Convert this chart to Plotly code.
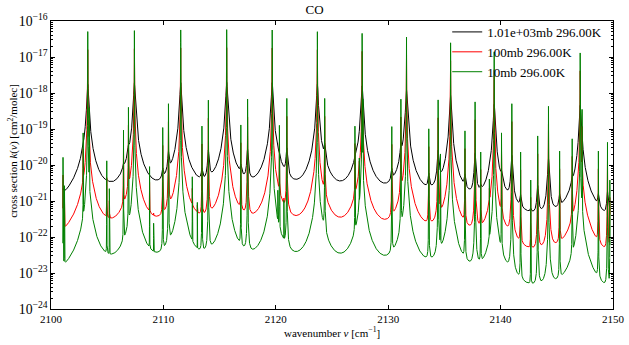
import numpy as np
import plotly.graph_objects as go

# CO line list: centres [cm-1] and intensities [1e-22 cm/molec]
line_center = [
    2103.27, 2107.42, 2111.54, 2115.63, 2119.68, 2123.70, 2127.68, 2131.63,
    2135.55, 2139.43, 2147.08,
    2101.07, 2101.20, 2102.86, 2103.40, 2104.96, 2105.19, 2106.45, 2106.89,
    2108.77, 2109.13, 2109.94, 2110.45, 2112.57, 2113.02, 2113.43, 2114.00,
    2116.89, 2117.49, 2120.18, 2120.32, 2120.72, 2120.98, 2123.72, 2124.35,
    2127.04, 2127.43, 2127.75, 2130.32, 2131.13, 2133.61, 2134.44, 2134.65,
    2136.83, 2137.73, 2138.23, 2139.00, 2140.08, 2141.00, 2141.78, 2142.68,
    2143.30, 2144.26, 2145.25, 2146.37, 2147.25, 2148.70, 2149.51, 2149.72,
]
line_strength = [
    3280, 3490, 3650, 3730, 3650, 3280, 2950, 2340,
    1620, 910, 850,
    1.05, 0.17, 5.0, 25.0, 0.84, 0.14, 6.0, 25.8,
    0.58, 0.013, 7.1, 32.6, 0.30, 0.056, 7.8, 41.0,
    8.4, 44.0, 0.11, 8.2, 0.062, 46.0, 7.5, 46.0,
    7.8, 0.96, 44.0, 7.6, 44.0, 6.6, 42.0, 1.32,
    5.8, 37.0, 1.5, 0.26, 5.1, 33.0, 1.5, 0.25,
    4.2, 28.0, 1.6, 3.5, 23.0, 1.6, 2.8, 0.25,
]

# conditions of the three spectra
pressure_mb = [1013.25, 100.0, 10.0]
temperature_K = [296.0, 296.0, 296.0]
trace_names = ["1.01e+03mb 296.00K", "100mb 296.00K", "10mb 296.00K"]
trace_colors = ["black", "red", "green"]

GAMMA_AIR = 0.06          # Lorentz HWHM at 1 atm [cm-1]
MASS_AMU = 28.0
NU_START, NU_END = 2101.05, 2149.73   # computed spectral window
AX_MIN, AX_MAX = 2100.0, 2150.0


def faddeeva_re(x, y):
    """Real part of the Faddeeva function (Humlicek W4)."""
    x = np.asarray(x, dtype=float)
    y = np.broadcast_to(np.asarray(y, dtype=float), x.shape)
    t = y - 1j * x
    s = np.abs(x) + y
    w = np.zeros(x.shape, dtype=complex)

    r1 = s >= 15.0
    tt = t[r1]
    w[r1] = 0.5641896 * tt / (0.5 + tt * tt)

    r2 = (s >= 5.5) & (s < 15.0)
    tt = t[r2]
    u = tt * tt
    w[r2] = tt * (1.410474 + u * 0.5641896) / (0.75 + u * (3.0 + u))

    r3 = (s < 5.5) & (y >= 0.195 * np.abs(x) - 0.176)
    tt = t[r3]
    w[r3] = (16.4955 + tt * (20.20933 + tt * (11.96482 + tt * (3.778987 + tt * 0.5642236)))) / \
            (16.4955 + tt * (38.82363 + tt * (39.27121 + tt * (21.69274 + tt * (6.699398 + tt)))))

    r4 = (s < 5.5) & (y < 0.195 * np.abs(x) - 0.176)
    tt = t[r4]
    u = tt * tt
    w[r4] = np.exp(u) - tt * (36183.31 - u * (3321.9905 - u * (1540.787 - u * (219.0313 - u * (
        35.76683 - u * (1.320522 - u * 0.56419)))))) / (32066.6 - u * (24322.84 - u * (
            9022.228 - u * (2186.181 - u * (364.2191 - u * (61.57037 - u * (1.841439 - u)))))))
    return w.real


# wavenumber grid: uniform background plus dense sampling around every line centre
centers = np.array(line_center)
strengths = np.array(line_strength) * 1e-22
fine = (centers[:, None] + np.linspace(-0.03, 0.03, 121)[None, :]).ravel()
nu = np.unique(np.concatenate([np.arange(NU_START, NU_END + 1e-9, 0.002), fine]))
nu = nu[(nu >= NU_START) & (nu <= NU_END)]


def cross_section(p_mb, T):
    k = np.zeros_like(nu)
    gam_l = GAMMA_AIR * p_mb / 1013.25
    c = 2.99792458e8
    kb = 1.380649e-23
    m = MASS_AMU * 1.66053907e-27
    sq_ln2 = np.sqrt(np.log(2.0))
    for nu0, s in zip(centers, strengths):
        alpha_d = nu0 / c * np.sqrt(2.0 * kb * T / m) * sq_ln2
        x = sq_ln2 * (nu - nu0) / alpha_d
        y = sq_ln2 * gam_l / alpha_d
        k += s * np.sqrt(np.log(2.0) / np.pi) / alpha_d * faddeeva_re(x, y)
    return k


fig = go.Figure()
for p, T, name, col in zip(pressure_mb, temperature_K, trace_names, trace_colors):
    fig.add_trace(go.Scatter(
        x=nu, y=cross_section(p, T), mode="lines", name=name,
        line=dict(color=col, width=1),
    ))

FONT = "Liberation Serif, DejaVu Serif, serif"
PLOT_H = 345 - 21 - 36
fig.update_layout(
    width=629, height=345,
    margin=dict(l=51, r=16, t=21, b=36, autoexpand=False),
    plot_bgcolor="white", paper_bgcolor="white",
    font=dict(family=FONT, size=11, color="black"),
    title=dict(text="CO", x=0.5, xanchor="center", y=1, yanchor="top",
               pad=dict(t=5), font=dict(size=13, family=FONT)),
    showlegend=True,
    legend=dict(x=0.705, y=1.014, xanchor="left", yanchor="top",
                bgcolor="rgba(0,0,0,0)", font=dict(size=13, family=FONT),
                itemwidth=30, tracegroupgap=0),
    annotations=[
        dict(text="cross section <i>k</i>(<i>ν</i>) [cm<sup>2</sup>/molec]",
             xref="paper", yref="paper", x=-0.068, y=0.5 + 14 / PLOT_H,
             xanchor="center", yanchor="middle", textangle=-90, showarrow=False,
             font=dict(size=11, family=FONT)),
        dict(text="wavenumber <i>ν</i> [cm<sup>−1</sup>]",
             xref="paper", yref="paper", x=0.5, y=-23 / PLOT_H,
             xanchor="center", yanchor="middle", showarrow=False,
             font=dict(size=11, family=FONT)),
    ],
)
fig.update_xaxes(
    range=[AX_MIN, AX_MAX], dtick=10, tick0=2100, automargin=False,
    showgrid=False, zeroline=False,
    showline=True, linecolor="black", linewidth=1.3, mirror="allticks",
    ticks="inside", ticklen=4, tickcolor="black",
)
fig.update_yaxes(
    type="log", range=[-24, -16], dtick=1, exponentformat="power", automargin=False,
    showgrid=False, zeroline=False,
    showline=True, linecolor="black", linewidth=1.3, mirror="allticks",
    ticks="inside", ticklen=4, tickcolor="black",
    minor=dict(ticks="inside", ticklen=2, tickcolor="black", dtick="D1", showgrid=False),
)

fig.write_html("out.html")
